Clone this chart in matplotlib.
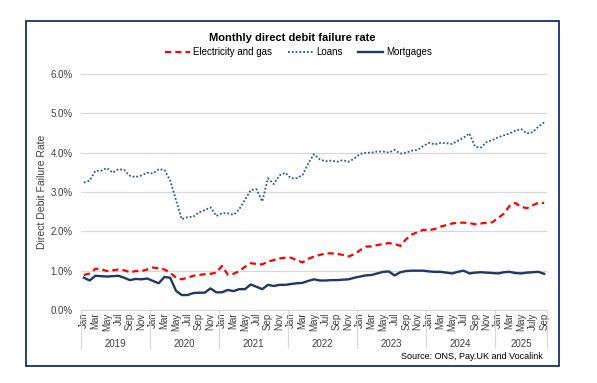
import numpy as np
import matplotlib
matplotlib.use("Agg")
import matplotlib.pyplot as plt
from matplotlib.patches import Rectangle
import matplotlib.transforms as mtransforms

plt.rcParams['font.family'] = ['Liberation Sans', 'DejaVu Sans']

years = ['2019', '2020', '2021', '2022', '2023', '2024', '2025']
months_per_year = [12, 12, 12, 12, 12, 12, 9]
shown_months = ['Jan', 'Mar', 'May', 'Jul', 'Sep', 'Nov']
shown_months_2025 = ['Jan', 'Mar', 'May', 'July', 'Sep']

# failure rates in %, Jan 2019 .. Sep 2025
electricity_gas = [
    0.89, 0.93, 1.05, 1.04, 0.99, 1.01, 1.03, 1.01, 0.96, 0.99, 0.99, 1.03,
    1.08, 1.06, 1.03, 0.95, 0.82, 0.78, 0.82, 0.87, 0.89, 0.91, 0.92, 0.95,
    1.12, 0.90, 0.92, 0.99, 1.10, 1.19, 1.17, 1.16, 1.23, 1.27, 1.31, 1.33,
    1.33, 1.27, 1.21, 1.30, 1.36, 1.40, 1.44, 1.44, 1.43, 1.40, 1.36, 1.42,
    1.52, 1.61, 1.62, 1.65, 1.68, 1.70, 1.68, 1.63, 1.80, 1.92, 1.98, 2.04,
    2.03, 2.06, 2.12, 2.16, 2.20, 2.22, 2.22, 2.21, 2.18, 2.20, 2.22, 2.23,
    2.34, 2.45, 2.65, 2.72, 2.62, 2.59, 2.66, 2.73, 2.72,
]
loans = [
    3.24, 3.29, 3.54, 3.54, 3.61, 3.49, 3.58, 3.56, 3.41, 3.38, 3.42, 3.49,
    3.47, 3.58, 3.56, 3.29, 2.80, 2.31, 2.36, 2.37, 2.48, 2.54, 2.61, 2.39,
    2.46, 2.46, 2.42, 2.56, 2.80, 3.05, 3.07, 2.76, 3.35, 3.20, 3.42, 3.49,
    3.35, 3.35, 3.43, 3.73, 3.96, 3.83, 3.78, 3.80, 3.77, 3.81, 3.77, 3.85,
    3.97, 4.00, 4.00, 4.03, 4.03, 4.00, 4.07, 3.98, 4.00, 4.05, 4.07, 4.17,
    4.25, 4.21, 4.25, 4.24, 4.22, 4.30, 4.38, 4.49, 4.15, 4.13, 4.27, 4.32,
    4.39, 4.44, 4.49, 4.56, 4.60, 4.49, 4.52, 4.66, 4.77,
]
mortgages = [
    0.82, 0.75, 0.87, 0.86, 0.85, 0.86, 0.87, 0.82, 0.76, 0.79, 0.78, 0.80,
    0.74, 0.68, 0.84, 0.82, 0.49, 0.38, 0.38, 0.43, 0.44, 0.44, 0.55, 0.45,
    0.45, 0.51, 0.48, 0.53, 0.53, 0.65, 0.59, 0.53, 0.64, 0.61, 0.64, 0.64,
    0.66, 0.68, 0.69, 0.74, 0.78, 0.75, 0.75, 0.76, 0.76, 0.77, 0.78, 0.82,
    0.85, 0.88, 0.89, 0.93, 0.97, 0.98, 0.88, 0.96, 0.99, 1.00, 1.00, 1.00,
    0.98, 0.97, 0.97, 0.95, 0.93, 0.97, 1.00, 0.93, 0.95, 0.96, 0.95, 0.94,
    0.93, 0.96, 0.97, 0.94, 0.93, 0.95, 0.96, 0.97, 0.92,
]

navy = '#1F3864'
grey_text = '#404040'

fig = plt.figure(figsize=(5.97, 3.83), dpi=100)
ax = fig.add_axes([0.1357, 0.1906, 0.7806, 0.6162])

x = np.arange(len(loans))
ax.plot(x, electricity_gas, color='#FF0000', lw=1.6, dashes=(2.8, 1.8),
        label='Electricity and gas')
ax.plot(x, loans, color='#2F5597', lw=1.3, dashes=(1, 1.1),
        dash_capstyle='butt', label='Loans')
ax.plot(x, mortgages, color=navy, lw=1.7, label='Mortgages')

ax.set_xlim(-0.5, len(loans) - 0.5)
ax.set_ylim(0, 6)
ax.set_yticks(np.arange(0, 7, 1))
ax.set_yticklabels(['{:.1f}%'.format(v) for v in range(7)], fontsize=7, color=grey_text)
ax.tick_params(axis='y', length=0, pad=6)
ax.grid(axis='y', color='#D9D9D9', lw=0.9)
ax.set_axisbelow(True)
for s in ['top', 'right', 'left']:
    ax.spines[s].set_visible(False)
ax.spines['bottom'].set_color('#D9D9D9')
ax.spines['bottom'].set_linewidth(0.9)

# month ticks and year groups
tick_pos, tick_lab = [], []
start = 0
trans = mtransforms.blended_transform_factory(ax.transData, ax.transAxes)
for yr, n in zip(years, months_per_year):
    labels = shown_months_2025 if yr == '2025' else shown_months
    for k, lab in enumerate(labels):
        tick_pos.append(start + 2 * k)
        tick_lab.append(lab)
    ax.text(start + (n - 1) / 2, -0.142, yr, transform=trans, ha='center',
            va='center', fontsize=7, color=grey_text)
    ax.plot([start - 0.5, start - 0.5], [0, -0.163], transform=trans,
            color='#D9D9D9', lw=0.9, clip_on=False)
    start += n
ax.plot([start - 0.5, start - 0.5], [0, -0.163], transform=trans,
        color='#D9D9D9', lw=0.9, clip_on=False)
ax.set_xticks(tick_pos)
ax.set_xticklabels(tick_lab, rotation=90, fontsize=7, color=grey_text)
ax.tick_params(axis='x', length=0, pad=2)

fig.text(0.0704, 0.4987, 'Direct Debit Failure Rate', rotation=90,
         ha='center', va='center', fontsize=7.5, color=grey_text)
fig.text(0.489, 0.9, 'Monthly direct debit failure rate', ha='center',
         va='center', fontsize=8, fontweight='bold')
fig.legend(loc='center', bbox_to_anchor=(0.5, 0.864), ncol=3, frameon=False,
           fontsize=7, handlelength=2.6, columnspacing=1.6, handletextpad=0.3)
fig.text(0.9095, 0.068, 'Source: ONS, Pay.UK and Vocalink', ha='right',
         va='center', fontsize=6.5, color='black')

fig.add_artist(Rectangle((0.0436, 0.044), 0.8927, 0.901, fill=False,
                         edgecolor='#002060', lw=1.2, transform=fig.transFigure))

fig.savefig('out.png', dpi=100)
